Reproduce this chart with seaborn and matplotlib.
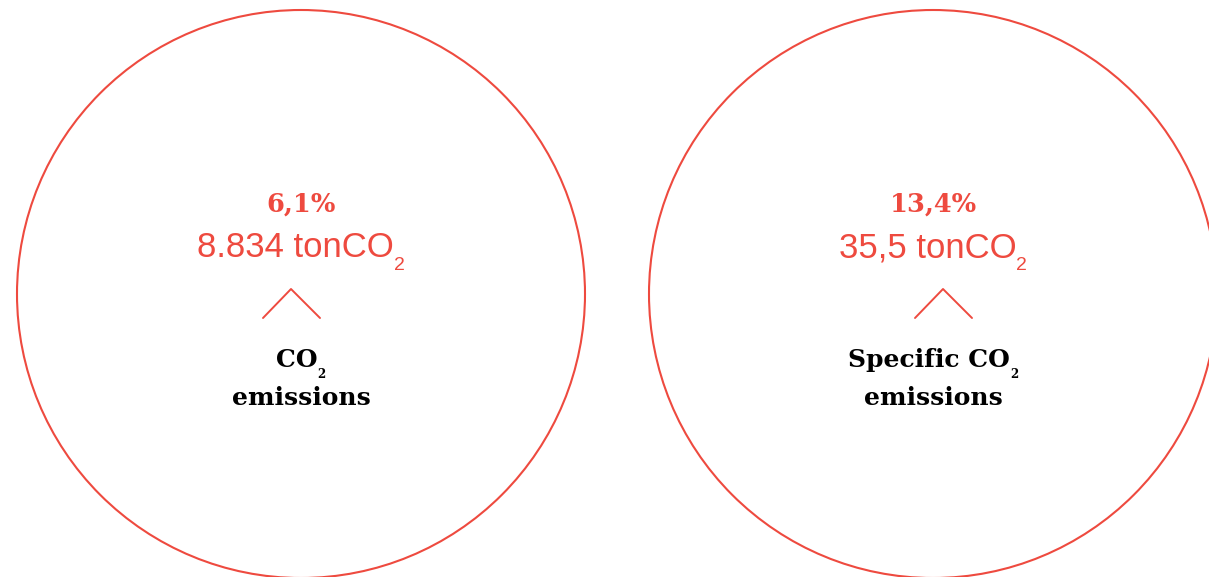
import matplotlib.pyplot as plt
import seaborn as sns
from matplotlib.patches import Circle


# values
SHARES = ["6,1%", "13,4%"]
AMOUNTS = ["8.834", "35,5"]
UNIT = "tonCO"
TITLES = ["CO", "Specific CO"]
SUBSCRIPT = "2"
SUBTITLE = "emissions"

RED = "#EE4A3F"
CENTERS_X = [301, 933]
CENTER_Y = 294
RADIUS = 284
CHEVRON_X = [291, 943]

SERIF = ["DejaVu Serif"]
SANS = ["Liberation Sans", "DejaVu Sans"]


def centered_with_subscript(ax, renderer, cx, y, text, y_sub, main_kw, sub_kw):
    # main text plus a separate subscript, centered together on cx
    main = ax.text(cx, y, text, ha="left", va="baseline", **main_kw)
    sub = ax.text(cx, y_sub, SUBSCRIPT, ha="left", va="baseline", **sub_kw)
    w_main = main.get_window_extent(renderer).width
    w_sub = sub.get_window_extent(renderer).width
    x0 = cx - (w_main + w_sub) / 2
    main.set_x(x0)
    sub.set_x(x0 + w_main)


def main() -> None:
    sns.set_theme(style="white")

    fig = plt.figure(figsize=(12.09, 5.77), dpi=100)
    ax = fig.add_axes([0, 0, 1, 1])
    ax.set_xlim(0, 1209)
    ax.set_ylim(577, 0)
    ax.set_aspect("equal")
    ax.axis("off")
    renderer = fig.canvas.get_renderer()

    for cx, chev_x, share, amount, title in zip(CENTERS_X, CHEVRON_X, SHARES, AMOUNTS, TITLES):
        ax.add_patch(Circle((cx, CENTER_Y), RADIUS, fill=False, ec=RED, lw=1.5))

        ax.text(cx, 212, share, ha="center", va="baseline", color=RED,
                fontsize=18.5, fontweight="bold", family=SERIF)

        centered_with_subscript(
            ax, renderer, cx, 257, f"{amount} {UNIT}", 270,
            dict(color=RED, fontsize=25, family=SANS),
            dict(color=RED, fontsize=14, family=SANS),
        )

        ax.plot([chev_x - 28, chev_x, chev_x + 29], [318, 289, 318], color=RED, lw=1.4)

        centered_with_subscript(
            ax, renderer, cx, 367, title, 378,
            dict(color="black", fontsize=18, fontweight="bold", family=SERIF),
            dict(color="black", fontsize=8.5, fontweight="bold", family=SERIF),
        )
        ax.text(cx, 405, SUBTITLE, ha="center", va="baseline", color="black",
                fontsize=18, fontweight="bold", family=SERIF)

    fig.savefig("out.png", dpi=100, facecolor="white")
    plt.close(fig)


if __name__ == "__main__":
    main()
